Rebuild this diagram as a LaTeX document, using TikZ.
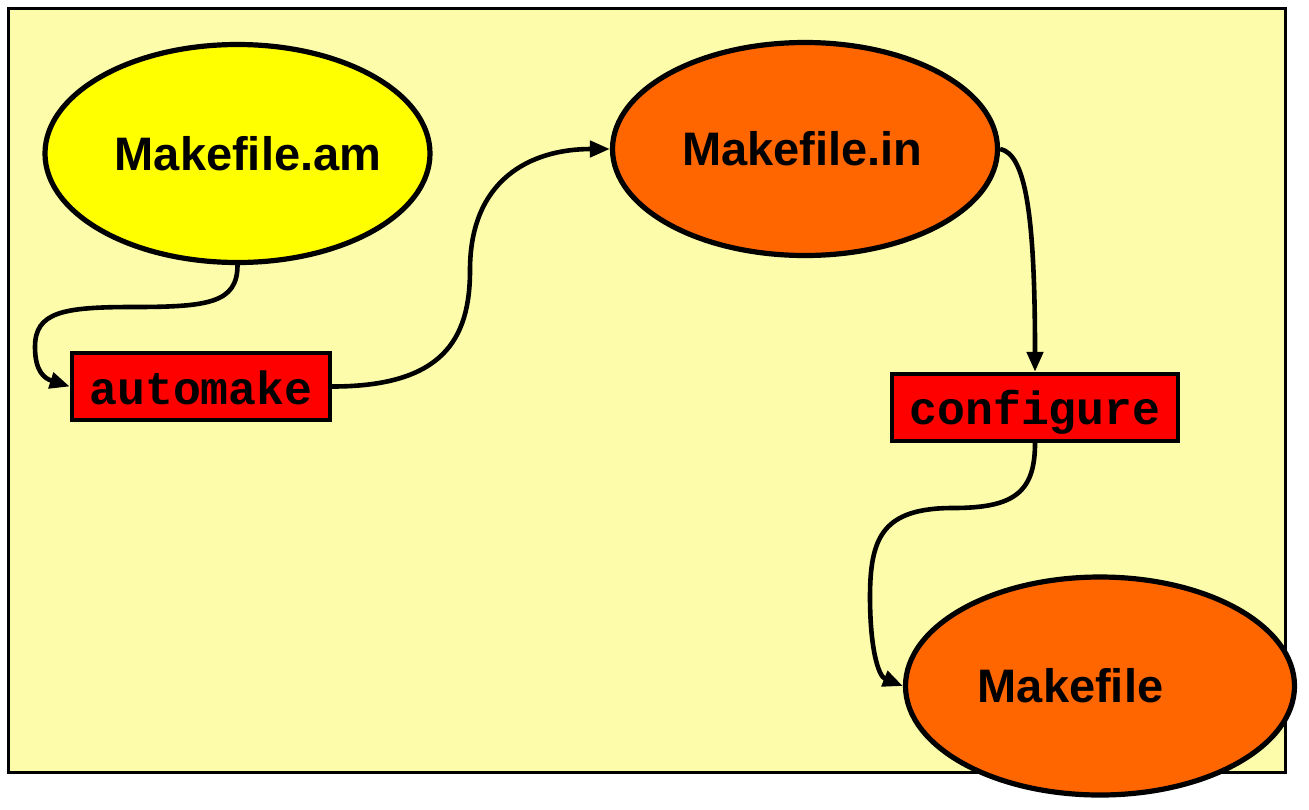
\documentclass[tikz,border=0pt]{standalone}
\usepackage{fontspec}
\setmainfont{Liberation Sans}
\setmonofont{Liberation Mono}
\usetikzlibrary{shapes.geometric,arrows.meta}
\definecolor{paleyellow}{HTML}{FCFCAA}
\definecolor{fileyellow}{HTML}{FFFF00}
\definecolor{fileorange}{HTML}{FF6600}
\definecolor{toolred}{HTML}{FF0000}

\begin{document}
\begin{tikzpicture}[x=0.5pt,y=-0.5pt,
  file/.style={shape=ellipse,draw=black,line width=2.6pt,inner sep=0pt,font=\fontsize{23.5}{28}\selectfont\bfseries},
  tool/.style={shape=rectangle,draw=black,line width=2.2pt,fill=toolred,inner sep=0pt,minimum height=33.5pt,font=\fontsize{23.25}{28}\selectfont\ttfamily\bfseries},
  flow/.style={draw=black,line width=2.3pt,-{Triangle[length=10pt,width=8pt]}}]
\useasboundingbox (0,0) rectangle (1309,809);
\draw[draw=black,line width=1.5pt,fill=paleyellow] (8,8) rectangle (1285,772);

\node[file,fill=fileyellow,minimum width=192.5pt,minimum height=109pt] (am) at (237.5,153.5) {\makebox[0pt]{\hspace*{10.5pt}Makefile.am}};
\node[file,fill=fileorange,minimum width=192.5pt,minimum height=106.5pt] (in) at (805,149) {\makebox[0pt]{Makefile.in\hspace*{2.5pt}}};
\node[file,fill=fileorange,minimum width=194.5pt,minimum height=109pt] (mf) at (1100,686) {\makebox[0pt]{Makefile\hspace*{29.5pt}}};
\node[tool,minimum width=129pt] (automake) at (201,386.5) {\raisebox{-9pt}[0pt][0pt]{automake}};
\node[tool,minimum width=143pt] (configure) at (1035,407.5) {\raisebox{-8.5pt}[0pt][0pt]{configure}};

\draw[flow] (am.south) .. controls +(0,38) and +(75,0) .. (133,307)
  .. controls +(-70,0) and +(0,-35) .. (35,347)
  .. controls +(0,25) and +(-25,-8) .. (automake.west);
\draw[flow] (automake.east) .. controls +(110,0) and +(0,70) .. (470,270)
  .. controls +(0,-90) and +(-80,0) .. (in.west);
\draw[flow] (in.east) .. controls +(25,5) and +(0,-160) .. (configure.north);
\draw[flow] (configure.south) .. controls +(0,50) and +(60,0) .. (953,508)
  .. controls +(-70,0) and +(0,-60) .. (870,597)
  .. controls +(0,50) and +(-25,-10) .. (mf.west);
\end{tikzpicture}
\end{document}
